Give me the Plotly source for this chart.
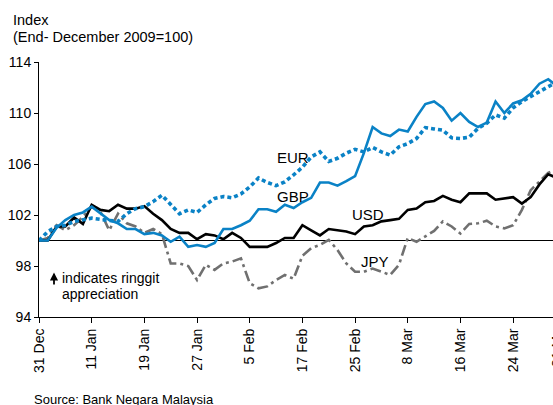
import plotly.graph_objects as go

# business-day index (31 Dec 2009 .. 31 Mar 2010)
days = list(range(60))

usd = [100.0, 100.0, 101.1, 101.1, 101.8, 101.3, 102.8, 102.4, 102.3, 102.8,
       102.5, 102.5, 102.7, 102.1, 101.6, 100.9, 100.6, 100.6, 100.1, 100.5,
       100.4, 100.1, 100.6, 100.2, 99.5, 99.5, 99.5, 99.8, 100.2, 100.2,
       101.2, 100.8, 100.4, 100.9, 100.8, 100.7, 100.5, 101.1, 101.2, 101.5,
       101.6, 101.7, 102.4, 102.5, 103.0, 103.1, 103.5, 103.2, 103.0, 103.7,
       103.7, 103.7, 103.2, 103.3, 103.4, 102.9, 103.4, 104.4, 105.2, 104.9]

gbp = [100.0, 100.0, 101.0, 101.6, 102.0, 102.2, 102.65, 102.1, 101.6, 101.35,
       100.9, 100.9, 100.5, 100.6, 100.4, 99.9, 100.3, 99.5, 99.65, 99.5,
       99.8, 100.9, 100.9, 101.2, 101.55, 102.45, 102.45, 102.25, 102.8, 102.55,
       103.0, 103.35, 104.55, 104.55, 104.3, 104.65, 105.05, 106.85, 108.9, 108.4,
       108.2, 108.7, 108.55, 109.7, 110.7, 110.9, 110.4, 109.4, 110.0, 109.3,
       108.9, 109.25, 110.9, 110.0, 110.75, 111.0, 111.5, 112.3, 112.65, 112.1]

eur = [100.0, 100.7, 101.1, 101.2, 101.5, 101.6, 101.75, 101.65, 101.55, 101.5,
       102.1, 102.5, 102.65, 103.05, 103.55, 102.8, 102.1, 102.4, 102.2, 102.8,
       103.3, 103.45, 103.35, 103.65, 104.2, 104.9, 104.55, 104.3, 104.6, 105.15,
       105.75, 106.55, 106.95, 106.2, 106.45, 106.85, 107.15, 106.95, 107.3, 106.95,
       106.7, 107.35, 107.6, 108.0, 108.85, 108.75, 108.65, 108.05, 108.0, 108.1,
       108.8, 109.2, 109.85, 109.6, 110.4, 110.9, 111.3, 111.7, 112.1, 112.45]

jpy = [100.0, 100.2, 101.2, 100.8, 101.2, 101.85, 102.65, 102.25, 100.8, 102.1,
       101.35, 101.1, 100.6, 100.9, 100.5, 98.2, 98.2, 98.0, 96.9, 98.1,
       97.7, 98.2, 98.35, 98.6, 96.65, 96.25, 96.4, 96.9, 97.3, 97.0,
       98.8, 99.4, 99.65, 100.05, 99.25, 98.2, 97.55, 97.55, 97.8, 97.55,
       97.3, 98.1, 100.2, 99.9, 100.3, 100.75, 101.5, 101.1, 100.55, 101.3,
       101.35, 101.55, 101.1, 100.95, 101.2, 102.4, 103.95, 104.6, 105.3, 105.6]

tick_idx = [0, 6, 12, 18, 24, 30, 36, 42, 48, 54]
tick_text = ["31 Dec", "11 Jan", "19 Jan", "27 Jan", "5 Feb", "17 Feb",
             "25 Feb", "8 Mar", "16 Mar", "24 Mar"]
last_tick_idx = 59
last_tick_text = "31 Mar"

BLUE = "#0a82c6"
GREY = "#707070"
FONT = "Liberation Sans, Arial, sans-serif"

# plot area geometry (pixels)
L, T, W, H = 39, 62, 514, 255


def px(x):
    return (x - L) / W


def py(y):
    return (T + H - y) / H


fig = go.Figure()
fig.add_trace(go.Scatter(x=days, y=jpy, mode="lines", name="JPY",
                         line=dict(color=GREY, width=2.6, dash="11px,4px,3px,4px")))
fig.add_trace(go.Scatter(x=days, y=usd, mode="lines", name="USD",
                         line=dict(color="black", width=2.6)))
fig.add_trace(go.Scatter(x=days, y=eur, mode="lines", name="EUR",
                         line=dict(color=BLUE, width=3.6, dash="4px,3px")))
fig.add_trace(go.Scatter(x=days, y=gbp, mode="lines", name="GBP",
                         line=dict(color=BLUE, width=2.6)))

x_max = W / 8.78

fig.add_shape(type="line", xref="paper", yref="y", x0=0, x1=1, y0=100, y1=100,
              line=dict(color="black", width=1), layer="below")


def text(t, x, y, size, xanchor="center", angle=0, yanchor="middle"):
    fig.add_annotation(xref="paper", yref="paper", x=px(x), y=py(y), text=t,
                       xanchor=xanchor, yanchor=yanchor, textangle=angle,
                       showarrow=False, borderpad=0, borderwidth=0,
                       font=dict(size=size, color="black", family=FONT))


# series labels
text("EUR", 292.5, 157.5, 15)
text("GBP", 292.5, 196, 15)
text("USD", 367.5, 214, 15)
text("JPY", 375, 261, 15)

# arrow note
fig.add_annotation(xref="paper", yref="paper", x=px(54), y=py(272.5),
                   ax=0, ay=13.5, axref="pixel", ayref="pixel",
                   text="", showarrow=True, arrowhead=2, arrowsize=0.9,
                   arrowwidth=1.8, arrowcolor="black")
text("indicates ringgit", 62, 277.6, 14, xanchor="left")
text("appreciation", 62, 293.8, 14, xanchor="left")

# title
text("Index", 12.5, 20.0, 14.5, xanchor="left")
text("(End- December 2009=100)", 12.5, 36.8, 14.5, xanchor="left")

# source
text("Source: Bank Negara Malaysia", 33.5, 399.5, 13, xanchor="left")

# partly visible last tick label (cut by the right edge, as in the reference)
text(last_tick_text, L + last_tick_idx * 8.78, 323, 14, angle=-90, yanchor="top")

fig.update_layout(
    width=553, height=405,
    margin=dict(l=L, r=553 - L - W, t=T, b=405 - T - H, autoexpand=False),
    paper_bgcolor="white", plot_bgcolor="white",
    showlegend=False,
    font=dict(family=FONT, size=14, color="black"),
)
fig.update_xaxes(range=[0, x_max], tickmode="array", tickvals=tick_idx, ticktext=tick_text,
                 tickangle=-90, showgrid=False, zeroline=False, showline=True,
                 linecolor="black", linewidth=1, ticks="outside", ticklen=5,
                 tickcolor="black", tickfont=dict(size=14, family=FONT), automargin=False)
fig.update_yaxes(range=[94, 114], tickmode="array", tickvals=[94, 98, 102, 106, 110, 114],
                 showgrid=False, zeroline=False, showline=True, linecolor="black",
                 linewidth=1, ticks="outside", ticklen=4, tickcolor="black",
                 tickfont=dict(size=14, family=FONT), automargin=False)

fig.write_html("out.html", config={"displayModeBar": False},
               post_script="document.body.style.margin='0';document.body.style.overflow='hidden';")
